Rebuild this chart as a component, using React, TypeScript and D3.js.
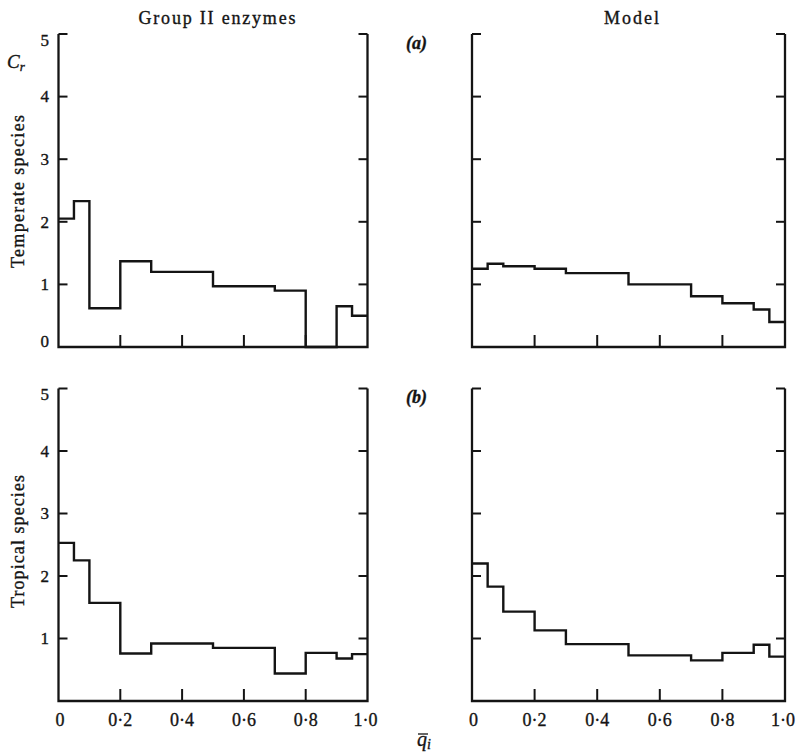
import React, { useRef, useEffect } from 'react';
import * as d3 from 'd3';

// bin edges of the histograms (x = mean frequency q̄i)
const binEdges = [0, 0.05, 0.1, 0.2, 0.3, 0.5, 0.7, 0.8, 0.9, 0.95, 1.0];

// Cr values per bin
const groupTemperate = [2.05, 2.33, 0.62, 1.37, 1.2, 0.97, 0.9, 0, 0.65, 0.5];
const modelTemperate = [1.25, 1.33, 1.29, 1.25, 1.18, 1.0, 0.81, 0.7, 0.6, 0.4];
const groupTropical = [2.53, 2.25, 1.57, 0.76, 0.92, 0.85, 0.44, 0.77, 0.68, 0.75];
const modelTropical = [2.2, 1.83, 1.43, 1.13, 0.91, 0.73, 0.65, 0.77, 0.9, 0.71];

const yTicks = [0, 1, 2, 3, 4, 5];
const xTicks = [0, 0.2, 0.4, 0.6, 0.8, 1.0];
const xTickLabels = ['0', '0·2', '0·4', '0·6', '0·8', '1·0'];

const columnTitles = ['Group II enzymes', 'Model'];
const rowLabels = ['Temperate species', 'Tropical species'];
const panelTags = ['(a)', '(b)'];

const FONT = '"Liberation Serif", "Times New Roman", serif';
const INK = '#141414';

const App = () => {
  const ref = useRef<SVGSVGElement>(null);

  useEffect(() => {
    if (!ref.current) return;
    const svg = d3.select(ref.current);
    svg.selectAll('*').remove();

    const cols: [number, number][] = [[58.5, 367.5], [472, 785]];
    const rows: [number, number][] = [[34, 347], [388.5, 701]];
    const titleLen = [157, 55];
    const rowLabelLen = [153, 133];

    // slightly heavier text, like the printed original
    const ink = (sel: any) => sel
      .attr('font-family', FONT)
      .attr('fill', INK)
      .attr('stroke', INK)
      .attr('stroke-width', 0.35);

    const panels = [
      { values: groupTemperate, col: 0, row: 0 },
      { values: modelTemperate, col: 1, row: 0 },
      { values: groupTropical, col: 0, row: 1 },
      { values: modelTropical, col: 1, row: 1 },
    ];

    panels.forEach(p => {
      const x = d3.scaleLinear().domain([0, 1]).range(cols[p.col]);
      const y = d3.scaleLinear().domain([0, 5]).range([rows[p.row][1], rows[p.row][0]]);
      const g = svg.append('g');

      // frame: left, bottom and right sides, no top
      g.append('path')
        .attr('d', `M${x(0)},${y(5)}V${y(0)}H${x(1)}V${y(5)}`)
        .attr('fill', 'none')
        .attr('stroke', INK)
        .attr('stroke-width', 2.3)
        .attr('stroke-linejoin', 'miter');

      // inward y ticks on both sides
      yTicks.filter(t => t > 0).forEach(t => {
        g.append('line')
          .attr('x1', x(0)).attr('x2', x(0) + 9)
          .attr('y1', y(t)).attr('y2', y(t))
          .attr('stroke', INK).attr('stroke-width', 2);
        g.append('line')
          .attr('x1', x(1) - 9).attr('x2', x(1))
          .attr('y1', y(t)).attr('y2', y(t))
          .attr('stroke', INK).attr('stroke-width', 2);
      });

      // upward x ticks
      xTicks.filter(t => t > 0 && t < 1).forEach(t => {
        g.append('line')
          .attr('x1', x(t)).attr('x2', x(t))
          .attr('y1', y(0)).attr('y2', y(0) - 12)
          .attr('stroke', INK).attr('stroke-width', 2);
      });

      // y tick labels only on the left column
      if (p.col === 0) {
        const shown = p.row === 0 ? yTicks : yTicks.filter(t => t > 0);
        shown.forEach(t => {
          g.append('text')
            .attr('x', x(0) - 9.5)
            .attr('y', y(t))
            .attr('dy', t === 5 ? '0.68em' : t === 0 ? '0' : '0.34em')
            .attr('text-anchor', 'end')
            .attr('font-size', 17)
            .call(ink)
            .text(String(t));
        });
      }

      // x tick labels on the bottom row
      if (p.row === 1) {
        xTicks.forEach((t, i) => {
          g.append('text')
            .attr('x', t === 1 ? x(t) - 2 : x(t) + (t === 0 ? 1.5 : 0))
            .attr('y', 725.5)
            .attr('text-anchor', 'middle')
            .attr('font-size', 18)
            .call(ink)
            .text(xTickLabels[i]);
        });
      }

      // histogram step line
      const pts: [number, number][] = binEdges.map((e, i) => [
        e,
        p.values[Math.min(i, p.values.length - 1)],
      ]);
      const line = d3.line<[number, number]>()
        .x(d => x(d[0]))
        .y(d => y(d[1]))
        .curve(d3.curveStepAfter);
      g.append('path')
        .attr('d', line(pts))
        .attr('fill', 'none')
        .attr('stroke', INK)
        .attr('stroke-width', 2.4);
    });

    // column titles
    columnTitles.forEach((t, i) => {
      const cx = (cols[i][0] + cols[i][1]) / 2 + (i === 0 ? 4 : 3);
      svg.append('text')
        .attr('x', cx)
        .attr('y', 24)
        .attr('text-anchor', 'middle')
        .attr('font-size', 18)
        .attr('textLength', titleLen[i])
        .attr('lengthAdjust', 'spacing')
        .call(ink)
        .text(t);
    });

    // row labels, rotated
    rowLabels.forEach((t, i) => {
      const cy = i === 0 ? 191.5 : 541.5;
      svg.append('text')
        .attr('transform', `translate(24,${cy}) rotate(-90)`)
        .attr('text-anchor', 'middle')
        .attr('font-size', 18)
        .attr('textLength', rowLabelLen[i])
        .attr('lengthAdjust', 'spacing')
        .call(ink)
        .text(t);
    });

    // panel tags (a), (b)
    panelTags.forEach((t, i) => {
      svg.append('text')
        .attr('x', 406)
        .attr('y', i === 0 ? 48.5 : 402.5)
        .attr('font-size', 18)
        .attr('font-style', 'italic')
        .attr('font-weight', 'bold')
        .call(ink)
        .text(t);
    });

    // Cr axis symbol
    const cr = svg.append('text')
      .attr('x', 7)
      .attr('y', 68)
      .attr('font-size', 19)
      .attr('font-style', 'italic')
      .call(ink);
    cr.append('tspan').text('C');
    cr.append('tspan').attr('font-size', 13).attr('dy', 3).text('r');

    // q̄i axis symbol
    const q = svg.append('text')
      .attr('x', 417)
      .attr('y', 746)
      .attr('font-size', 20)
      .attr('font-style', 'italic')
      .call(ink);
    q.append('tspan').text('q');
    q.append('tspan').attr('font-size', 14).attr('dy', 3).text('i');
    svg.append('line')
      .attr('x1', 418).attr('x2', 428)
      .attr('y1', 734).attr('y2', 734)
      .attr('stroke', INK).attr('stroke-width', 1.3);
  }, []);

  return (
    <svg
      ref={ref}
      width={797}
      height={754}
      style={{ position: 'absolute', left: 0, top: 0, background: '#fff' }}
    />
  );
};

export default App;
